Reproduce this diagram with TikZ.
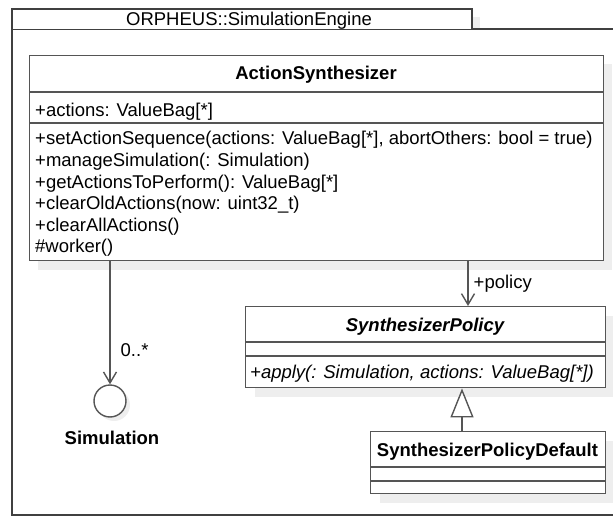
\documentclass[tikz,border=0pt]{standalone}
\usepackage{fontspec}
\setmainfont{Liberation Sans}
\usetikzlibrary{arrows.meta}
\definecolor{umlline}{HTML}{555555}
\definecolor{pkgline}{HTML}{404040}
\definecolor{umlshadow}{HTML}{EEEEEE}
\tikzset{
	classbox/.style={draw=umlline, line width=1.4pt, fill=white, anchor=north west, inner sep=0pt},
	umltext/.style={font=\fontsize{18.5}{21.6}\selectfont, inner sep=0pt},
	assoc/.style={draw=umlline, line width=1.4pt, -{Straight Barb[length=11pt,width=13pt,line width=1.4pt]}},
	gen/.style={draw=umlline, line width=1.4pt, -{Triangle[open,length=29pt,width=23pt,line width=1.4pt,fill=white]}}
}
\begin{document}
\begin{tikzpicture}[x=1pt,y=-1pt]
			\useasboundingbox (0,0) rectangle (613,516);
			\clip (0,0) rectangle (613,516);
			%Package
			\fill[umlshadow] (20,17) rectangle (480,29);
			\draw[pkgline, line width=1.5pt] (12,29) -- (640,29);
			\draw[pkgline, line width=1.5pt] (12,9) -- (12,515) -- (640,515);
			\draw[pkgline, line width=1.5pt, fill=white] (12,29) -- (12,9) -- (472,9) -- (472,29);
			\node[umltext, anchor=base] (pkgname) at (249,26) {ORPHEUS::SimulationEngine};
			%Shadows
			\fill[umlshadow] (38,64) rectangle (612,270);
			\fill[umlshadow] (255,316) rectangle (614,397);
			\fill[umlshadow] (380,441) rectangle (614,503);
			\fill[umlshadow] (114,405) circle (16);
			%ActionSynthesizer
			\node[classbox, minimum width=574pt, minimum height=205pt] (actsyn) at (29,55) {};
			\draw[umlline, line width=1.4pt] (29,92) -- (603,92);
			\draw[umlline, line width=1.4pt] (29,123) -- (603,123);
			\node[umltext, anchor=base, font=\fontsize{18.5}{21.6}\selectfont\bfseries] (asname) at (316,80) {ActionSynthesizer};
			\node[umltext, anchor=base west] (asattr) at (35,117) {+actions: ValueBag[*]};
			\node[umltext, anchor=base west] (asop1) at (35,145) {+setActionSequence(actions: ValueBag[*], abortOthers: bool = true)};
			\node[umltext, anchor=base west] (asop2) at (35,166.5) {+manageSimulation(: Simulation)};
			\node[umltext, anchor=base west] (asop3) at (35,188) {+getActionsToPerform(): ValueBag[*]};
			\node[umltext, anchor=base west] (asop4) at (35,209.5) {+clearOldActions(now: uint32\_t)};
			\node[umltext, anchor=base west] (asop5) at (35,231) {+clearAllActions()};
			\node[umltext, anchor=base west] (asop6) at (35,252.5) {\#worker()};
			%SynthesizerPolicy
			\node[classbox, minimum width=360pt, minimum height=81pt] (policy) at (245,306) {};
			\draw[umlline, line width=1.4pt] (245,342) -- (605,342);
			\draw[umlline, line width=1.4pt] (245,356) -- (605,356);
			\node[umltext, anchor=base, font=\fontsize{18.5}{21.6}\selectfont\bfseries\itshape] (polname) at (425,331) {SynthesizerPolicy};
			\node[umltext, anchor=base west, font=\fontsize{18.5}{21.6}\selectfont\itshape] (polop) at (250,378) {+apply(: Simulation, actions: ValueBag[*])};
			%SynthesizerPolicyDefault
			\node[classbox, minimum width=235pt, minimum height=62pt] (deflt) at (370,431) {};
			\draw[umlline, line width=1.4pt] (370,467) -- (605,467);
			\draw[umlline, line width=1.4pt] (370,481) -- (605,481);
			\node[umltext, anchor=base, font=\fontsize{18.5}{21.6}\selectfont\bfseries] (defname) at (487.5,456) {SynthesizerPolicyDefault};
			%Simulation interface
			\node[draw=umlline, line width=1.4pt, fill=white, circle, minimum size=32pt, inner sep=0pt] (simul) at (110,401) {};
			\node[umltext, anchor=base, font=\fontsize{18.5}{21.6}\selectfont\bfseries] (simname) at (112,444) {Simulation};
			%Connectors
			\coordinate (polx) at (468,0);
			\coordinate (genx) at (462,0);
			\draw[assoc] (actsyn.south -| simul) -- node[umltext, pos=0.72, anchor=west, xshift=10pt] (mult) {0..*} (simul.north);
			\draw[assoc] (actsyn.south -| polx) -- node[umltext, anchor=west, xshift=5pt] (polrole) {+policy} (policy.north -| polx);
			\draw[gen] (deflt.north -| genx) -- (policy.south -| genx);
\end{tikzpicture}
\end{document}
